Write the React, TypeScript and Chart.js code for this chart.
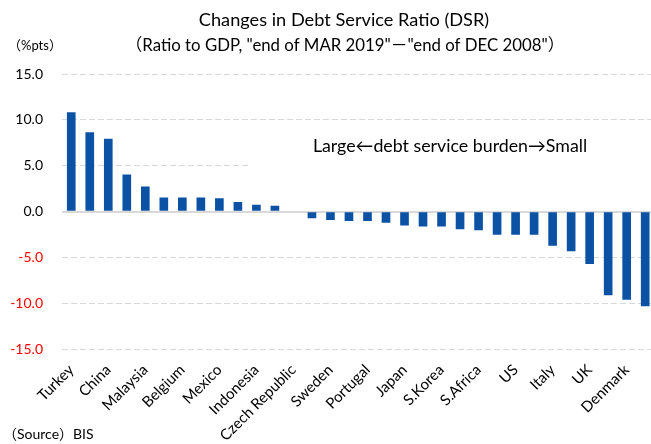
import React, { useEffect, useRef } from "react";
import { Chart, registerables } from "chart.js";

Chart.register(...registerables);

// ---- data ----
const categories: string[] = [
  "Turkey", "", "China", "", "Malaysia", "", "Belgium", "", "Mexico", "",
  "Indonesia", "", "Czech Republic", "", "Sweden", "", "Portugal", "", "Japan", "",
  "S.Korea", "", "S.Africa", "", "US", "", "Italy", "", "UK", "",
  "Denmark", "",
];
const dsrChange: number[] = [
  10.8, 8.6, 7.9, 4.0, 2.7, 1.5, 1.5, 1.5, 1.4, 1.0,
  0.7, 0.6, 0.0, -0.7, -0.9, -1.0, -1.0, -1.2, -1.5, -1.6,
  -1.6, -1.9, -2.0, -2.5, -2.5, -2.5, -3.7, -4.3, -5.7, -9.1,
  -9.6, -10.3,
];
const yMin = -15;
const yMax = 15;
const yStep = 5;

const TITLE = "Changes in Debt Service Ratio (DSR)";
const SUBTITLE = "（Ratio to GDP, \"end of MAR 2019\"－\"end of DEC 2008\"）";
const UNIT = "（%pts）";
const NOTE = "Large←debt service burden→Small";
const SOURCE = "（Source）BIS";

const FONT = "Lato, 'Noto Sans CJK JP', sans-serif";
const BAR = "#0B52A4";

const textPlugin = {
  id: "texts",
  beforeDatasetsDraw(chart: any) {
    const ctx = chart.ctx as CanvasRenderingContext2D;
    ctx.save();
    ctx.fillStyle = "#ffffff";
    ctx.fillRect(250, 124, 410, 44);
    ctx.fillStyle = "#000";
    ctx.font = `17.8px ${FONT}`;
    ctx.textAlign = "center";
    ctx.textBaseline = "middle";
    ctx.fillText(NOTE, 450, 146);
    ctx.restore();
  },
  afterDraw(chart: any) {
    const ctx = chart.ctx as CanvasRenderingContext2D;
    ctx.save();
    ctx.fillStyle = "#000";
    ctx.textBaseline = "middle";
    ctx.textAlign = "center";
    ctx.font = `18.2px ${FONT}`;
    ctx.fillText(TITLE, 344, 20);
    ctx.font = `16.8px ${FONT}`;
    ctx.fillText(SUBTITLE, 345, 46);
    ctx.textAlign = "left";
    ctx.font = `13px ${FONT}`;
    ctx.fillText(UNIT, 8, 46);
    ctx.font = `14px ${FONT}`;
    ctx.fillText(SOURCE, 3, 434);
    ctx.restore();
  },
};

export default function App() {
  const ref = useRef<HTMLCanvasElement | null>(null);

  useEffect(() => {
    if (!ref.current) return;
    const chart = new Chart(ref.current, {
      type: "bar",
      data: {
        labels: categories,
        datasets: [
          {
            data: dsrChange,
            backgroundColor: (c: any) =>
              c.raw === 0 ? "rgba(0,0,0,0)" : BAR,
            barThickness: 8,
          },
        ],
      },
      options: {
        responsive: false,
        animation: false,
        devicePixelRatio: 1,
        layout: { padding: { top: 74, left: 0, right: 5, bottom: 0 } },
        plugins: {
          legend: { display: false },
          tooltip: { enabled: false },
          title: { display: false },
        },
        scales: {
          x: {
            grid: { display: false },
            border: { display: false },
            afterFit: (s: any) => {
              s.height = 95;
            },
            ticks: {
              autoSkip: false,
              maxRotation: 45,
              minRotation: 45,
              padding: 4,
              color: "#000",
              font: { family: FONT, size: 15 },
            },
          },
          y: {
            min: yMin,
            max: yMax,
            afterFit: (s: any) => {
              s.width = 62;
            },
            grid: {
              drawTicks: false,
              color: "#d9d9d9",
              lineWidth: (c: any) => (c.tick && c.tick.value === 0 ? 2 : 1),
            },
            border: {
              display: false,
              dash: (c: any) => (c.tick && c.tick.value === 0 ? [] : [6, 3]),
            },
            ticks: {
              stepSize: yStep,
              padding: 19,
              callback: (v: any) => Number(v).toFixed(1),
              color: (c: any) => (c.tick && c.tick.value < 0 ? "#ff0000" : "#000"),
              font: { family: FONT, size: 14 },
            },
          },
        },
      },
      plugins: [textPlugin],
    });
    return () => chart.destroy();
  }, []);

  return (
    <div
      style={{
        position: "absolute",
        left: 0,
        top: 0,
        width: 651,
        height: 444,
        overflow: "hidden",
        background: "#fff",
      }}
    >
      <canvas ref={ref} width={662} height={444} style={{ display: "block" }} />
    </div>
  );
}
